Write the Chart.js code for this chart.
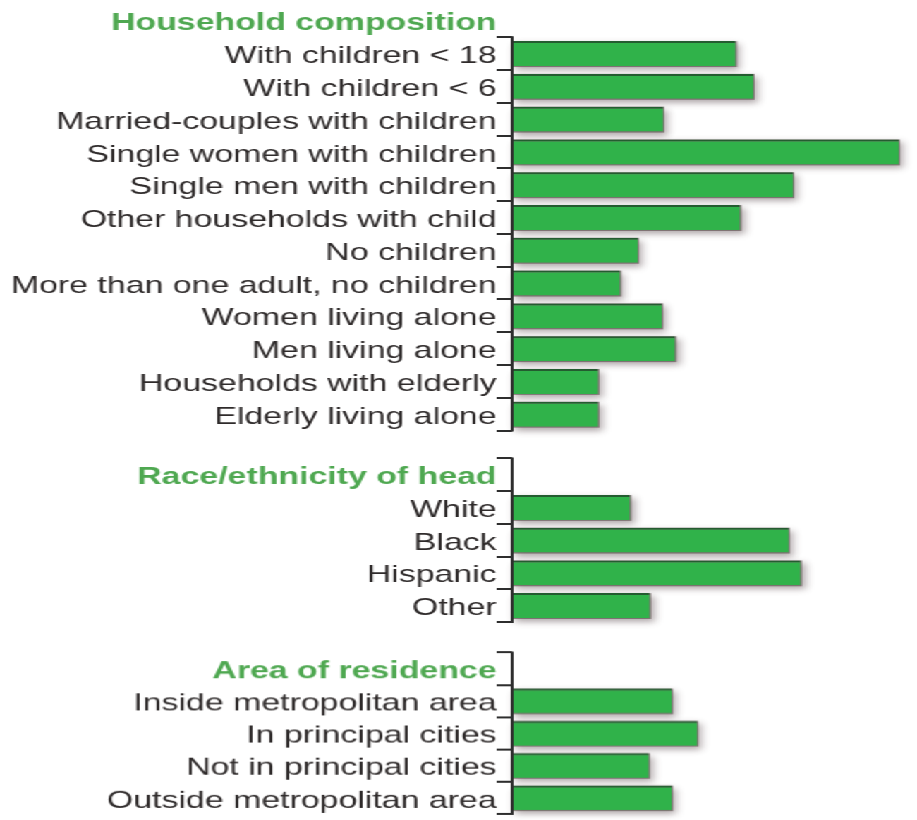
<!DOCTYPE html>
<html>
<head>
<meta charset="utf-8">
<script src="https://cdn.jsdelivr.net/npm/chart.js@4/dist/chart.umd.min.js"></script>
<style>
  html,body{margin:0;padding:0;background:#fff;overflow:hidden;}
  /* the source picture is horizontally stretched, so the whole drawing is too */
  #wrap{position:relative;width:650px;height:820px;transform:scaleX(1.4108);transform-origin:0 0;}
  /* each box is 14.4px taller on both ends: Chart.js reserves half a label height there */
  .sec{position:absolute;left:0;width:650px;}
</style>
</head>
<body>
<div id="wrap">
  <div class="sec" style="top:-10px;height:455px"><canvas id="c1"></canvas></div>
  <div class="sec" style="top:443.6px;height:192.3px"><canvas id="c2"></canvas></div>
  <div class="sec" style="top:638.3px;height:189.4px"><canvas id="c3"></canvas></div>
</div>
<script>
/* data */
const householdLabels = ['With children < 18','With children < 6','Married-couples with children','Single women with children','Single men with children','Other households with child','No children','More than one adult, no children','Women living alone','Men living alone','Households with elderly','Elderly living alone'];
const householdValues = [20.3, 21.9, 13.7, 35.1, 25.5, 20.7, 11.4, 9.8, 13.6, 14.8, 7.8, 7.8];
const raceLabels  = ['White','Black','Hispanic','Other'];
const raceValues  = [10.7, 25.1, 26.2, 12.5];
const areaLabels  = ['Inside metropolitan area','In principal cities','Not in principal cities','Outside metropolitan area'];
const areaValues  = [14.5, 16.8, 12.4, 14.5];
const X_MAX = 36;

const C_BAR  = '#30b24a';
const C_EDGE = '#245c30';
const C_AXIS = '#2e2e2e';
const C_TEXT = '#2f2b2b';
const C_HEAD = '#4fa851';
const FONT   = "'Liberation Sans', Arial, Helvetica, sans-serif";
const AXIS_X = 363;

// axis line that may start below the header row
const segAxis = {
  id:'segAxis',
  afterDraw(chart, args, opts){
    const s = chart.scales.y, ctx = chart.ctx;
    const row = (s.bottom - s.top) / s.ticks.length;
    const top = s.top + (opts.from||0) * row;
    ctx.save();
    ctx.strokeStyle = C_AXIS; ctx.lineWidth = 2;
    ctx.beginPath(); ctx.moveTo(s.right, top - 1); ctx.lineTo(s.right, s.bottom + 1); ctx.stroke();
    ctx.restore();
  }
};

// soft drop shadow under each bar
const barShadow = {
  id:'barShadow',
  beforeDatasetsDraw(chart){
    const ctx = chart.ctx;
    chart.getDatasetMeta(0).data.forEach(b => {
      const p = b.getProps(['x','y','base','height'], true);
      if (!(p.x - p.base > 0)) return;
      ctx.save();
      ctx.shadowColor = 'rgba(70,50,55,0.6)';
      ctx.shadowBlur = 6; ctx.shadowOffsetX = 2; ctx.shadowOffsetY = 3;
      ctx.fillStyle = 'rgba(100,85,85,0.7)';
      ctx.fillRect(p.base, p.y - p.height/2, p.x - p.base + 1, p.height + 1);
      ctx.restore();
    });
  }
};

function sectionChart(id, header, labels, values, axisFrom){
  const el = document.getElementById(id);
  new Chart(el, {type:'bar',
    data:{labels:[header, ...labels], datasets:[{data:[null, ...values], backgroundColor:C_BAR, borderColor:C_EDGE,
      borderWidth:{top:2,right:0,bottom:0,left:0}, borderSkipped:false, barPercentage:0.76, categoryPercentage:1}]},
    options:{indexAxis:'y', responsive:true, maintainAspectRatio:false, animation:false,
      layout:{padding:{left:0,right:6,top:0,bottom:0}},
      plugins:{legend:{display:false}, tooltip:{enabled:false}, segAxis:{from:axisFrom}},
      scales:{
        x:{display:false, min:0, max:X_MAX},
        y:{afterFit:s=>{ s.width = AXIS_X; },
           border:{display:false},
           grid:{offset:true, drawOnChartArea:false, drawTicks:true, tickLength:11, lineWidth:2,
                 tickColor:c => c.index < axisFrom ? 'rgba(0,0,0,0)' : C_AXIS},
           ticks:{padding:0, labelOffset:3, autoSkip:false,
                  color:c => c.index === 0 ? C_HEAD : C_TEXT,
                  font:c => c.index === 0 ? {family:FONT, size:24, weight:'bold', lineHeight:1.2} : {family:FONT, size:24, lineHeight:1.2}}}}},
    plugins:[segAxis, barShadow]});
}

sectionChart('c1', 'Household composition', householdLabels, householdValues, 1);
sectionChart('c2', 'Race/ethnicity of head', raceLabels, raceValues, 0);
sectionChart('c3', 'Area of residence', areaLabels, areaValues, 0);
</script>
</body>
</html>
